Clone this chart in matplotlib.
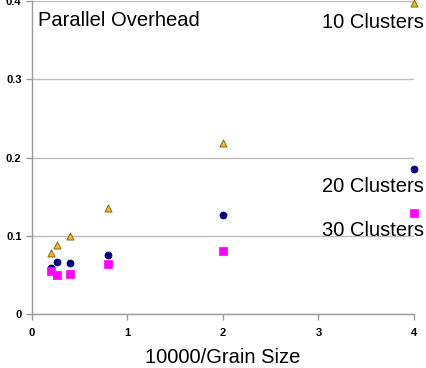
import matplotlib
matplotlib.use("Agg")
import matplotlib.pyplot as plt

plt.rcParams['font.family'] = ['Liberation Sans', 'DejaVu Sans']

x_vals = [0.2, 0.267, 0.4, 0.8, 2.0, 4.0]
clusters10 = [0.078, 0.088, 0.100, 0.136, 0.219, 0.397]
clusters20 = [0.059, 0.066, 0.0655, 0.075, 0.127, 0.185]
clusters30 = [0.0545, 0.050, 0.0515, 0.0635, 0.080, 0.1286]
series_labels = ["10 Clusters", "20 Clusters", "30 Clusters"]
x_ticks = [0, 1, 2, 3, 4]
y_ticks = [0, 0.1, 0.2, 0.3, 0.4]
y_tick_labels = ["0", "0.1", "0.2", "0.3", "0.4"]

fig = plt.figure(figsize=(4.26, 3.68), dpi=100)
ax = fig.add_axes([32/426, 1 - 314/368, (414 - 32)/426, 313/368])

ax.set_xlim(0, 4)
ax.set_ylim(0, 0.4)
ax.set_yticks(y_ticks)
ax.set_yticklabels(y_tick_labels)
ax.set_xticks(x_ticks)
ax.grid(axis='y', color='#bdbdbd', linewidth=1)
ax.set_axisbelow(True)
for s in ['top', 'right']:
    ax.spines[s].set_visible(False)
for s in ['left', 'bottom']:
    ax.spines[s].set_color('#9a9a9a')
    ax.spines[s].set_linewidth(1)
ax.tick_params(axis='both', color='#9a9a9a', length=4, width=1, labelsize=8)
for lbl in ax.get_xticklabels() + ax.get_yticklabels():
    lbl.set_fontweight('bold')
ax.tick_params(axis='x', pad=6)

ax.scatter(x_vals, clusters10, marker='^', s=26, color='#F0B824', edgecolors='#7a5a00',
           linewidths=0.6, clip_on=False, zorder=3)
ax.scatter(x_vals, clusters20, marker='o', s=26, color='#000080', edgecolors='#000080',
           linewidths=0.5, clip_on=False, zorder=3)
ax.scatter(x_vals, clusters30, marker='s', s=28, color='#FF00FF', edgecolors='#FF00FF',
           linewidths=0.5, clip_on=False, zorder=3)

ax.set_xlabel("10000/Grain Size", fontsize=14.5, labelpad=7)

fig.text(38/426, 1 - 20/368, "Parallel Overhead", fontsize=14.5, ha='left', va='center')
fig.text(424/426, 1 - 22/368, series_labels[0], fontsize=14.5, ha='right', va='center')
fig.text(424/426, 1 - 187/368, series_labels[1], fontsize=14.5, ha='right', va='center')
fig.text(424/426, 1 - 230/368, series_labels[2], fontsize=14.5, ha='right', va='center')

fig.savefig("out.png", dpi=100)
